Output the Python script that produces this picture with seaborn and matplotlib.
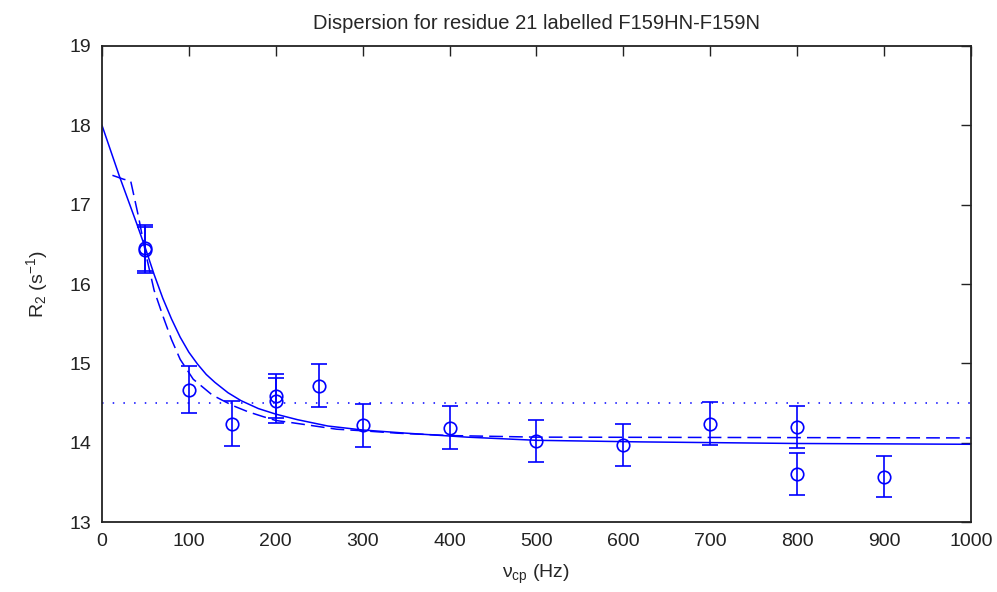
import numpy as np
import pandas as pd
import matplotlib
matplotlib.use("Agg")
import matplotlib.pyplot as plt
import seaborn as sns

# measured R2 values with errors
nu_cp = [50, 50, 100, 150, 200, 200, 250, 300, 400, 500, 600, 700, 800, 800, 900]
r2 = [16.43, 16.45, 14.67, 14.24, 14.59, 14.53, 14.72, 14.22, 14.19, 14.02, 13.97, 14.24, 14.20, 13.60, 13.57]
r2_err = [0.29, 0.29, 0.30, 0.28, 0.28, 0.28, 0.27, 0.27, 0.27, 0.26, 0.265, 0.275, 0.265, 0.265, 0.26]

# fitted curve (solid)
fit_x = [0, 10, 20, 30, 40, 50, 60, 70, 80, 90, 100, 110, 120, 130, 145, 160, 180, 200,
         225, 260, 300, 350, 420, 500, 620, 800, 1000]
fit_y = [18.0, 17.68, 17.36, 17.06, 16.76, 16.45, 16.12, 15.82, 15.56, 15.33, 15.14, 14.99,
         14.86, 14.76, 14.63, 14.53, 14.43, 14.36, 14.29, 14.21, 14.16, 14.12, 14.07, 14.03,
         14.01, 13.99, 13.98]

# second fit (dashed)
fit2_x = [12, 25, 33, 42, 50, 60, 70, 80, 90, 105, 127, 150, 168, 185, 200, 220, 245, 270,
          300, 340, 400, 500, 1000]
fit2_y = [17.37, 17.32, 17.30, 16.85, 16.40, 15.92, 15.60, 15.30, 15.05, 14.80, 14.60, 14.47,
          14.39, 14.33, 14.28, 14.25, 14.21, 14.17, 14.15, 14.12, 14.09, 14.07, 14.06]

# no-exchange level (dotted)
flat_x = [0, 1000]
flat_y = [14.5, 14.5]

sns.set_style("white")
plt.rcParams["font.family"] = ["Liberation Sans", "DejaVu Sans"]
plt.rcParams["mathtext.default"] = "regular"

blue = "#0000ff"
fig = plt.figure(figsize=(9.97, 5.92), dpi=100)
ax = fig.add_axes([0.1023, 0.1182, 0.8714, 0.8041])

sns.lineplot(data=pd.DataFrame({"x": fit_x, "y": fit_y}), x="x", y="y", ax=ax,
             color=blue, lw=1.1, sort=False)
sns.lineplot(data=pd.DataFrame({"x": fit2_x, "y": fit2_y}), x="x", y="y", ax=ax,
             color=blue, lw=1.1, sort=False, linestyle=(0, (9, 4)))
sns.lineplot(data=pd.DataFrame({"x": flat_x, "y": flat_y}), x="x", y="y", ax=ax,
             color=blue, lw=1.1, linestyle=(0, (1, 6)))
ax.errorbar(nu_cp, r2, yerr=r2_err, fmt="o", color=blue, mfc="none", mec=blue,
            ms=9, mew=1.2, elinewidth=1.2, capsize=6, capthick=1.2)

ax.set_xlim(0, 1000)
ax.set_ylim(13, 19)
ax.set_xticks(range(0, 1001, 100))
ax.set_yticks(range(13, 20))
ax.tick_params(direction="in", length=7, width=1, top=True, right=True,
               labelsize=14, pad=8, colors="#222222")
for s in ax.spines.values():
    s.set_linewidth(1.3)
    s.set_color("#222222")

ax.set_title("Dispersion for residue 21 labelled F159HN-F159N", fontsize=14.5, pad=12)
ax.set_xlabel("ν$_{cp}$ (Hz)", fontsize=14, labelpad=9)
ax.set_ylabel("R$_2$ (s$^{-1}$)", fontsize=14, labelpad=14)

fig.savefig("out.png", dpi=100)
